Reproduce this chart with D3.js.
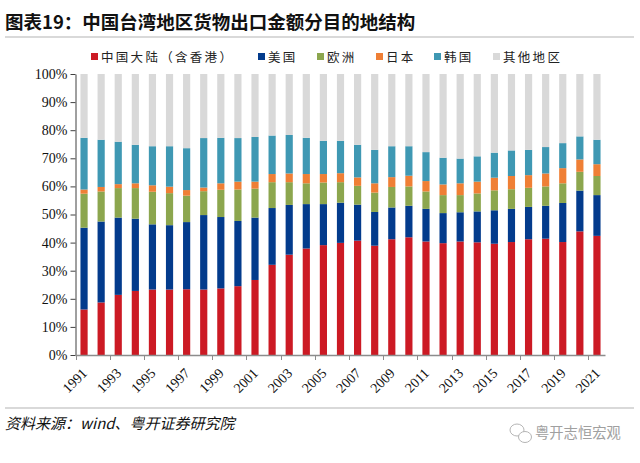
<!DOCTYPE html>
<html><head><meta charset="utf-8">
<script src="https://cdn.jsdelivr.net/npm/d3@7"></script>
<style>
html,body{margin:0;padding:0;background:#fff;}
svg{display:block;}
</style>
</head><body>
<svg id="c" width="640" height="463"></svg>
<script>
const years = d3.range(1991, 2022).map(String);
const seriesNames = ["中国大陆（含香港）","美国","欧洲","日本","韩国","其他地区"];
const seriesColors = ["#cc1a24","#033b8c","#8ca64e","#ef7f35","#3f98b3","#d9d9d9"];
const china = [16.2,18.7,21.4,22.8,23.3,23.3,23.4,23.3,23.7,24.5,26.7,32.1,35.7,37.9,39.1,39.9,40.7,38.9,41.2,41.9,40.4,39.8,40.4,40.1,39.6,40.2,41.2,41.4,40.2,44.0,42.4];
const usa   = [29.1,28.8,27.5,25.7,23.2,22.9,23.9,26.5,25.4,23.2,22.2,20.2,17.7,15.8,14.6,14.3,12.8,12.0,11.3,11.2,11.6,10.7,10.4,11.0,11.9,11.8,11.5,11.7,13.9,14.5,14.5];
const europe= [12.1,10.7,10.5,10.9,11.6,11.4,9.4,8.5,9.7,11.2,10.3,9.2,8.1,7.4,7.7,7.3,6.7,6.9,7.3,6.9,6.2,6.4,6.1,6.4,7.1,7.0,6.8,6.9,7.0,6.7,6.8];
const japan = [1.5,1.6,1.4,1.7,2.3,2.3,2.0,1.3,2.3,2.8,2.5,2.9,3.1,3.3,3.0,3.2,3.0,3.3,3.5,3.8,3.7,3.8,4.2,4.2,4.5,4.7,4.5,4.6,5.4,4.4,4.2];
const korea = [18.4,16.8,15.1,13.7,13.9,14.4,14.9,17.6,16.2,15.5,15.9,13.7,13.7,12.9,11.8,11.5,11.6,11.9,11.0,10.5,10.3,9.5,8.8,9.0,8.9,9.1,9.0,9.4,8.9,8.2,8.7];
const others= [22.7,23.4,24.1,25.2,25.7,25.7,26.4,22.8,22.7,22.8,22.4,21.9,21.7,22.7,23.8,23.8,25.2,27.0,25.7,25.7,27.8,29.8,30.1,29.3,28.0,27.2,27.0,26.0,24.6,22.2,23.4];
const yTicks = [0,10,20,30,40,50,60,70,80,90,100];
const xLabelYears = years.filter((d,i)=> i%2===0);

const rows = years.map((y,i)=>({year:y, s0:china[i], s1:usa[i], s2:europe[i], s3:japan[i], s4:korea[i], s5:others[i]}));
const keys = ["s0","s1","s2","s3","s4","s5"];
const stack = d3.stack().keys(keys)(rows);

const svg = d3.select("#c");
const serif = "'Liberation Serif','Times New Roman',serif";
const cjk = "'Noto Sans CJK SC','Noto Sans',sans-serif";

// title
svg.append("text").attr("x",5).attr("y",29).attr("font-family",cjk).attr("font-weight","bold")
  .attr("font-size",18.5).attr("fill","#111").text("图表19：中国台湾地区货物出口金额分目的地结构");
svg.append("line").attr("x1",5).attr("x2",634).attr("y1",37).attr("y2",37).attr("stroke","#d9d9d9").attr("stroke-width",2);

const x = d3.scaleBand().domain(years).range([75.5,605.5]).paddingInner(0).paddingOuter(0);
const y = d3.scaleLinear().domain([0,100]).range([355,74]);
const barW = x.bandwidth()*0.42;

// bars
const g = svg.append("g");
stack.forEach((layer,li)=>{
  g.append("g").attr("fill",seriesColors[li]).selectAll("rect").data(layer).join("rect")
    .attr("x",d=> x(d.data.year)+(x.bandwidth()-barW)/2)
    .attr("y",d=> y(d[1]))
    .attr("width",barW)
    .attr("height",d=> Math.max(0,y(d[0])-y(d[1])));
});

// y axis
const ya = svg.append("g").attr("transform","translate(75.5,0)")
  .call(d3.axisLeft(y).tickValues(yTicks).tickSize(5).tickSizeOuter(0).tickFormat(d=>d+"%"));
ya.select(".domain").attr("stroke","#404040");
ya.selectAll(".tick line").attr("stroke","#404040");
ya.selectAll(".tick text").attr("font-family",serif).attr("font-size",14).attr("fill","#111").attr("x",-8);

// x axis line
svg.append("line").attr("x1",75.5).attr("x2",605.5).attr("y1",355.5).attr("y2",355.5).attr("stroke","#8c8c8c").attr("stroke-width",1.3);
// x ticks at every other band boundary
svg.append("g").selectAll("line").data(xLabelYears).join("line")
  .attr("x1",d=>Math.round(x(d))+0.5).attr("x2",d=>Math.round(x(d))+0.5)
  .attr("y1",355).attr("y2",360).attr("stroke","#8c8c8c");
// x labels
svg.append("g").selectAll("text").data(xLabelYears).join("text")
  .attr("transform",d=>`translate(${x(d)+x.bandwidth()/2+4},${374}) rotate(-45)`)
  .attr("text-anchor","end").attr("font-family",serif).attr("font-size",14).attr("fill","#111")
  .text(d=>d);

// legend
const legendItems = [
  {x:91, i:0},{x:258, i:1},{x:317, i:2},{x:376, i:3},{x:434, i:4},{x:493, i:5}
];
const lg = svg.append("g");
legendItems.forEach(it=>{
  lg.append("rect").attr("x",it.x).attr("y",53).attr("width",7).attr("height",7).attr("fill",seriesColors[it.i]);
  lg.append("text").attr("x",it.x+10).attr("y",61.5).attr("font-family",cjk).attr("font-size",12.5)
    .attr("letter-spacing","2.3px").attr("fill","#222").text(seriesNames[it.i]);
});

// bottom
svg.append("line").attr("x1",5).attr("x2",634).attr("y1",408).attr("y2",408).attr("stroke","#d9d9d9").attr("stroke-width",2);
svg.append("text").attr("x",5).attr("y",429).attr("font-family",cjk).attr("font-style","italic")
  .attr("font-size",15).attr("fill","#111").text("资料来源：wind、粤开证券研究院");

// watermark
const wm = svg.append("g").attr("fill","none").attr("stroke","#b5b5b5").attr("stroke-width",1);
wm.append("ellipse").attr("cx",517).attr("cy",430).attr("rx",7).attr("ry",6);
wm.append("ellipse").attr("cx",525).attr("cy",437).attr("rx",6.5).attr("ry",5.5).attr("fill","#fff");
svg.append("text").attr("x",535).attr("y",438).attr("font-family",cjk).attr("font-size",14.3)
  .attr("fill","#a0a0a0").text("粤开志恒宏观");
</script>
</body></html>
